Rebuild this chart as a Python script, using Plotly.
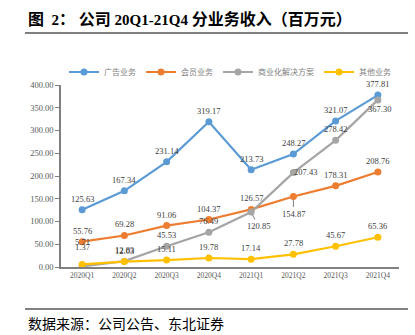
import plotly.graph_objects as go

categories = ["2020Q1", "2020Q2", "2020Q3", "2020Q4", "2021Q1", "2021Q2", "2021Q3", "2021Q4"]
ads = [125.63, 167.34, 231.14, 319.17, 213.73, 248.27, 321.07, 377.81]
member = [55.76, 69.28, 91.06, 104.37, 126.57, 154.87, 178.31, 208.76]
solutions = [1.37, 12.83, 45.53, 76.49, 120.85, 207.43, 278.42, 367.30]
other = [5.71, 12.03, 15.11, 19.78, 17.14, 27.78, 45.67, 65.36]

names = ["广告业务", "会员业务", "商业化解决方案", "其他业务"]
colors = ["#5B9BD5", "#ED7D31", "#A5A5A5", "#FFC000"]
series = [ads, member, solutions, other]

# label offsets (px): (xshift, yshift) or ("arrow", ax, ay)
offsets = {
    0: [(0, 11)] * 8,
    1: [(0, 11)] * 5 + [("arrow", 0, 17)] + [(0, 11)] * 2,
    2: [(0, 19), (0, 11), (0, 11), (0, 11), ("arrow", 7, 14), (12, 1), (0, 11), (2, -9)],
    3: [(0, 22), (0, 11), (0, 11), (0, 11), (0, 11), (0, 11), (0, 11), (0, 11)],
}

fig = go.Figure()
for i in [0, 1, 2, 3]:
    fig.add_trace(go.Scatter(
        x=categories, y=series[i], name=names[i], mode="lines+markers",
        line=dict(color=colors[i], width=2.2),
        marker=dict(color=colors[i], size=7),
    ))

annotations = []
label_font = dict(family="Liberation Serif, Times New Roman, serif", size=8.5, color="#404040")
for i in [0, 1, 2, 3]:
    for j, (c, v) in enumerate(zip(categories, series[i])):
        off = offsets[i][j]
        if off[0] == "arrow":
            annotations.append(dict(x=c, y=v, xref="x", yref="y", text=f"{v:.2f}",
                                    showarrow=True, arrowhead=0, arrowwidth=1,
                                    arrowcolor="#7f7f7f", ax=off[1], ay=off[2],
                                    standoff=3, font=label_font))
        else:
            annotations.append(dict(x=c, y=v, xref="x", yref="y", text=f"{v:.2f}",
                                    showarrow=False, xshift=off[0], yshift=off[1],
                                    font=label_font))

lat = "<span style='font-size:15px'>{}</span>"
title_text = ("<b>图" + lat.format("&nbsp;&nbsp;2") + "：" + lat.format("&nbsp;")
              + "公司" + lat.format("&nbsp;20Q1-21Q4&nbsp;") + "分业务收入（百万元）</b>")
annotations.append(dict(xref="paper", yref="paper", x=(26 - 61) / 338, y=1 + (85 - 19) / 182,
                        xanchor="left", yanchor="middle", showarrow=False,
                        text=title_text,
                        font=dict(family="Liberation Serif, Noto Sans CJK SC", size=16, color="#000")))
annotations.append(dict(xref="paper", yref="paper", x=(26 - 61) / 338, y=-(323 - 267) / 182,
                        xanchor="left", yanchor="middle", showarrow=False,
                        text="数据来源：公司公告、东北证券",
                        font=dict(family="Noto Sans CJK SC", size=14, color="#000")))

shapes = [
    dict(type="line", xref="paper", yref="paper", x0=(25 - 61) / 338, x1=(408 - 61) / 338,
         y0=1 + (85 - 33) / 182, y1=1 + (85 - 33) / 182, line=dict(color="#808080", width=2)),
    dict(type="line", xref="paper", yref="paper", x0=(25 - 61) / 338, x1=(408 - 61) / 338,
         y0=-(309 - 267) / 182, y1=-(309 - 267) / 182, line=dict(color="#808080", width=2)),
]

fig.update_layout(
    width=415, height=335,
    margin=dict(l=61, r=16, t=85, b=68, autoexpand=False),
    paper_bgcolor="white", plot_bgcolor="white",
    showlegend=True,
    legend=dict(orientation="h", x=0.5, xanchor="center",
                y=1 + (85 - 72) / 182, yanchor="middle",
                font=dict(family="Noto Sans CJK SC", size=8, color="#7f7f7f"),
                itemwidth=30, tracegroupgap=0, bgcolor="rgba(0,0,0,0)"),
    annotations=annotations,
    shapes=shapes,
    xaxis=dict(type="category", range=[-0.5, 7.5], showline=True, linecolor="#808080", linewidth=1.5,
               ticks="", showgrid=False, zeroline=False,
               tickfont=dict(family="Liberation Serif, Times New Roman, serif", size=7.5, color="#595959")),
    yaxis=dict(range=[0, 400], dtick=50, tickformat=".2f", showline=True, linecolor="#808080",
               linewidth=1.5, ticks="outside", ticklen=4, tickcolor="#808080", showgrid=False,
               zeroline=False,
               tickfont=dict(family="Liberation Serif, Times New Roman, serif", size=8.5, color="#595959")),
)

fig.write_html("out.html")
